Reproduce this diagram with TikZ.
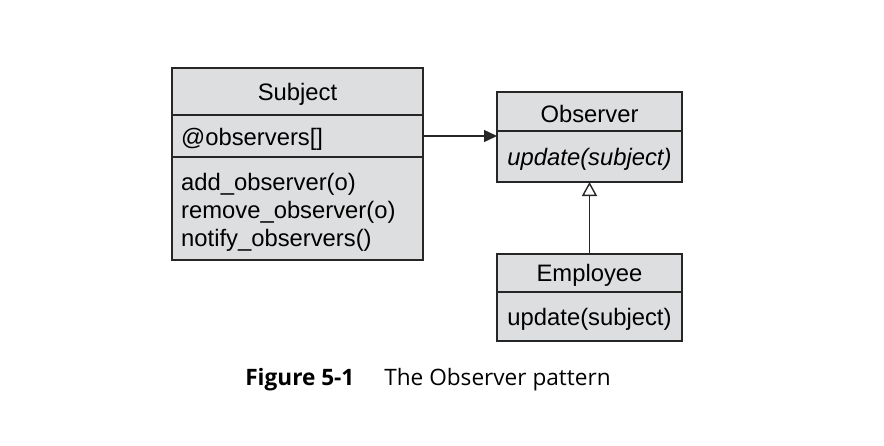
\documentclass[tikz,border=0pt]{standalone}
\usepackage{fontspec}
\setmainfont{Liberation Sans}
\newfontfamily\capfont{Open Sans}
\usetikzlibrary{arrows.meta}
\definecolor{boxfill}{RGB}{221,222,223}
\tikzset{
  comp/.style={draw=black!85, line width=1.4pt, fill=boxfill, inner sep=0pt, outer sep=0pt, anchor=north west},
  txt/.style={inner sep=0pt, anchor=west, font=\fontsize{23.8}{28}\selectfont, align=left},
  ctxt/.style={inner sep=0pt, font=\fontsize{23.8}{28}\selectfont},
  conn/.style={line width=1.4pt, draw=black!85}
}
\begin{document}
\begin{tikzpicture}[x=1pt,y=-1pt]
\useasboundingbox (0,0) rectangle (884,445);
% Subject
\node[comp, minimum width=251pt, minimum height=47pt] (subhead) at (172,68) {};
\node[comp, minimum width=251pt, minimum height=42pt] (subattr) at (172,115) {};
\node[comp, minimum width=251pt, minimum height=103pt] (submeth) at (172,157) {};
\node[ctxt] (subname) at ([yshift=-2.5pt]subhead.center) {Subject};
\node[txt] (attrtxt) at (181,139) {@observers[]};
\node[txt] (methtxt) at (181,212.5) {add\_observer(o)\\remove\_observer(o)\\notify\_observers()};
% Observer
\node[comp, minimum width=185pt, minimum height=39pt] (obshead) at (497,92) {};
\node[comp, minimum width=185pt, minimum height=51pt] (obsmeth) at (497,131) {};
\node[ctxt] (obsname) at ([yshift=-2pt]obshead.center) {Observer};
\node[ctxt] (obsmtxt) at ([yshift=-2.5pt]obsmeth.center) {\itshape update(subject)};
% Employee
\node[comp, minimum width=185pt, minimum height=38pt] (emphead) at (497,254) {};
\node[comp, minimum width=185pt, minimum height=49pt] (empmeth) at (497,292) {};
\node[ctxt] (empname) at ([yshift=-2pt]emphead.center) {Employee};
\node[ctxt] (empmtxt) at ([yshift=-2.5pt]empmeth.center) {update(subject)};
% connectors
\coordinate (arrstart) at (423,136);
\draw[conn, -{Triangle[length=13pt,width=12pt]}] (arrstart) -- (arrstart -| obsmeth.west);
\draw[conn, -{Triangle[open,length=14pt,width=15pt]}] (emphead.north) -- (obsmeth.south);
% caption
\node[inner sep=0pt, font=\capfont\fontsize{22.6}{26}\selectfont] (caption) at (428,380) {\textbf{Figure 5-1}\hspace{30pt}The Observer pattern};
\end{tikzpicture}
\end{document}
